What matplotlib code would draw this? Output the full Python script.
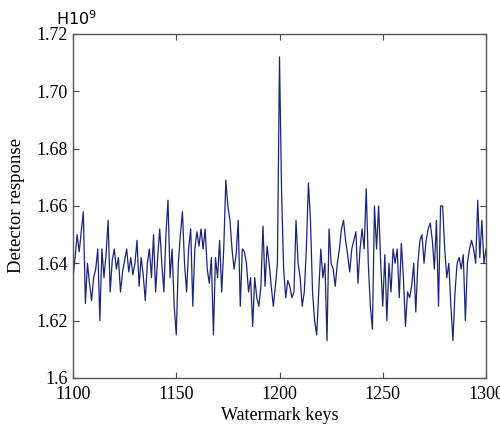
import matplotlib
matplotlib.use("Agg")
import matplotlib.pyplot as plt
import numpy as np

# watermark keys 1100..1300, detector response in units of 1e9
keys_start = 1100
seg1 = [1.635, 1.642, 1.650, 1.644, 1.651, 1.658, 1.626, 1.640, 1.633, 1.627,
        1.635, 1.638, 1.645, 1.620, 1.645, 1.635, 1.643, 1.655, 1.630, 1.641,
        1.645, 1.638, 1.642, 1.630, 1.637, 1.641, 1.645, 1.637, 1.642, 1.636,
        1.640, 1.648, 1.632, 1.642, 1.636, 1.627, 1.640, 1.645, 1.635, 1.650,
        1.630, 1.642, 1.652, 1.640, 1.630, 1.650, 1.662, 1.635, 1.645, 1.625]
seg2 = [1.615, 1.640, 1.650, 1.658, 1.640, 1.630, 1.645, 1.652, 1.625, 1.645,
        1.651, 1.646, 1.652, 1.645, 1.652, 1.638, 1.633, 1.642, 1.615, 1.642,
        1.635, 1.648, 1.630, 1.645, 1.669, 1.660, 1.655, 1.645, 1.638, 1.643,
        1.655, 1.625, 1.645, 1.644, 1.640, 1.630, 1.635, 1.618, 1.635, 1.628,
        1.625, 1.632, 1.653, 1.632, 1.646, 1.640, 1.632, 1.625, 1.632, 1.640]
seg3 = [1.712, 1.665, 1.638, 1.628, 1.634, 1.632, 1.628, 1.630, 1.655, 1.640,
        1.635, 1.625, 1.630, 1.645, 1.668, 1.655, 1.630, 1.620, 1.615, 1.630,
        1.645, 1.635, 1.640, 1.613, 1.652, 1.640, 1.638, 1.632, 1.640, 1.645,
        1.652, 1.655, 1.648, 1.643, 1.637, 1.645, 1.648, 1.651, 1.633, 1.645,
        1.652, 1.645, 1.666, 1.640, 1.625, 1.617, 1.660, 1.645, 1.660, 1.640,
        1.625]
seg4 = [1.643, 1.620, 1.640, 1.630, 1.645, 1.640, 1.645, 1.628, 1.647, 1.635,
        1.618, 1.630, 1.628, 1.632, 1.640, 1.623, 1.640, 1.648, 1.650, 1.640,
        1.648, 1.652, 1.654, 1.648, 1.638, 1.655, 1.625, 1.660, 1.660, 1.645,
        1.635, 1.640, 1.625, 1.613, 1.630, 1.640, 1.642, 1.638, 1.643, 1.620,
        1.640, 1.645, 1.648, 1.645, 1.640, 1.662, 1.642, 1.655, 1.640, 1.645]

response = np.array(seg1 + seg2 + seg3 + seg4)
keys = np.arange(keys_start, keys_start + len(response))

xticks = [1100, 1150, 1200, 1250, 1300]
yticks = [1.60, 1.62, 1.64, 1.66, 1.68, 1.70, 1.72]
ytick_labels = ["1.6", "1.62", "1.64", "1.66", "1.68", "1.70", "1.72"]

plt.rcParams["font.family"] = ["Liberation Serif", "DejaVu Serif"]

fig = plt.figure(figsize=(5, 4.3), dpi=100)
ax = fig.add_axes([0.146, 0.121, 0.826, 0.8])

ax.plot(keys, response, color="#1c2478", lw=0.9)

ax.set_xlim(1100, 1300)
ax.set_ylim(1.6, 1.72)
ax.set_xticks(xticks)
ax.set_xticklabels([str(t) for t in xticks])
ax.set_yticks(yticks)
ax.set_yticklabels(ytick_labels)
ax.tick_params(direction="in", top=True, right=True, labelsize=13,
               length=4, width=0.8, color="#444444")
ax.tick_params(axis="x", pad=6)
ax.tick_params(axis="y", pad=4)

for s in ax.spines.values():
    s.set_color("#555555")
    s.set_linewidth(1.0)

ax.set_xlabel("Watermark keys", fontsize=13, labelpad=3)
ax.set_ylabel("Detector response", fontsize=13.5, labelpad=8)

fig.text(0.153, 0.935, "H10$^9$", fontsize=11.5, family="DejaVu Sans",
         ha="center", va="bottom")

fig.savefig("out.png", dpi=100)
